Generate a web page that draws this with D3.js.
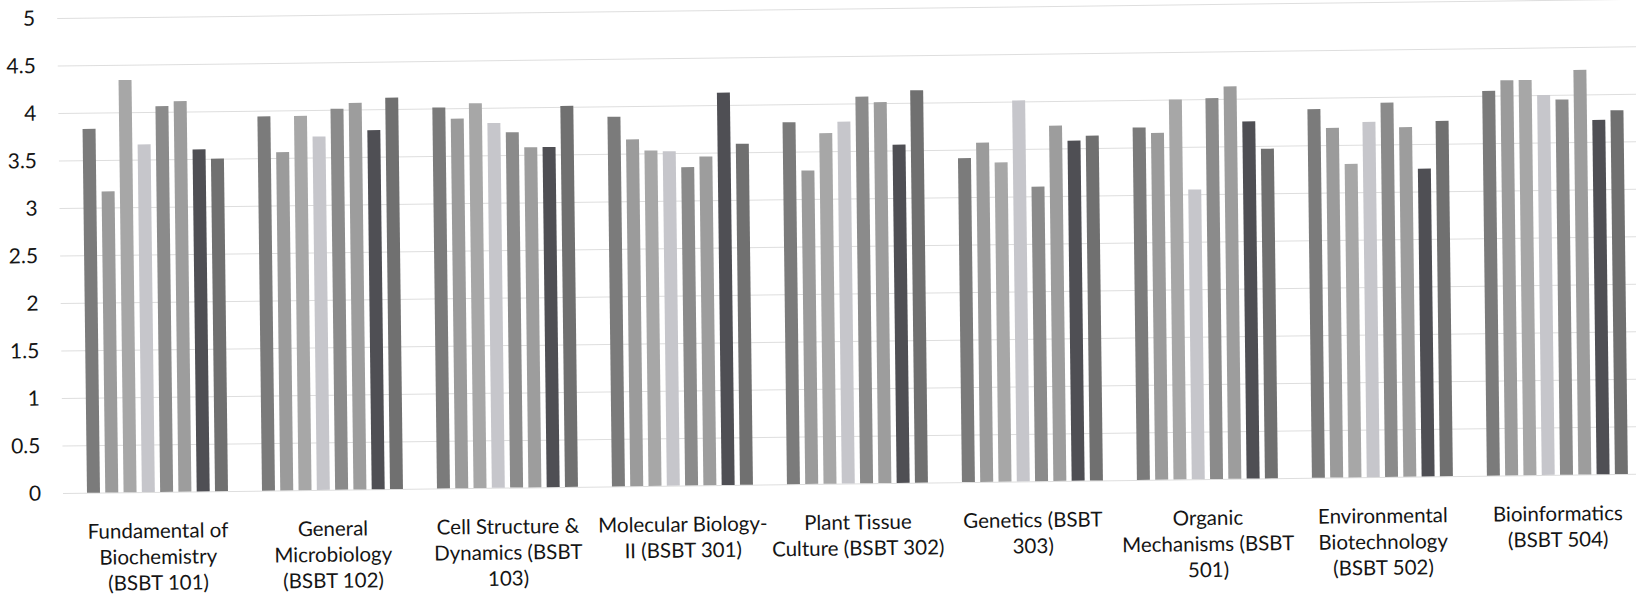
<!DOCTYPE html>
<html>
<head>
<meta charset="utf-8">
<script src="https://cdn.jsdelivr.net/npm/d3@7"></script>
<style>
    html, body { margin: 0; padding: 0; background: #fff; }
    #chart { width: 1636px; height: 599px; }
    .chart text { font-family: Lato, "Open Sans", sans-serif; fill: #151515; }
    .grid line { stroke: #dedede; stroke-width: 1; }
</style>
</head>
<body>
<div id="chart"></div>
<script>
const categories = [
    "Fundamental of Biochemistry (BSBT 101)",
    "General Microbiology (BSBT 102)",
    "Cell Structure & Dynamics (BSBT 103)",
    "Molecular Biology-II (BSBT 301)",
    "Plant Tissue Culture (BSBT 302)",
    "Genetics (BSBT 303)",
    "Organic Mechanisms (BSBT 501)",
    "Environmental Biotechnology (BSBT 502)",
    "Bioinformatics (BSBT 504)"
];

// how each category label wraps under its group
const categoryLines = [
    ["Fundamental of", "Biochemistry", "(BSBT 101)"],
    ["General", "Microbiology", "(BSBT 102)"],
    ["Cell Structure &", "Dynamics (BSBT", "103)"],
    ["Molecular Biology-", "II (BSBT 301)"],
    ["Plant Tissue", "Culture (BSBT 302)"],
    ["Genetics (BSBT", "303)"],
    ["Organic", "Mechanisms (BSBT", "501)"],
    ["Environmental", "Biotechnology", "(BSBT 502)"],
    ["Bioinformatics", "(BSBT 504)"]
];

const seriesNames = ["S1", "S2", "S3", "S4", "S5", "S6", "S7", "S8"];

// one row per category, one value per series
const scores = [
    [3.83, 3.17, 4.34, 3.66, 4.06, 4.11, 3.60, 3.50],
    [3.94, 3.56, 3.94, 3.72, 4.01, 4.07, 3.78, 4.12],
    [4.01, 3.89, 4.05, 3.84, 3.74, 3.58, 3.58, 4.01],
    [3.89, 3.65, 3.53, 3.52, 3.35, 3.46, 4.13, 3.59],
    [3.81, 3.30, 3.69, 3.81, 4.07, 4.01, 3.56, 4.13],
    [3.41, 3.57, 3.36, 4.01, 3.10, 3.74, 3.58, 3.63],
    [3.71, 3.65, 4.00, 3.05, 4.01, 4.13, 3.76, 3.47],
    [3.88, 3.68, 3.30, 3.74, 3.94, 3.68, 3.24, 3.74],
    [4.05, 4.16, 4.16, 4.00, 3.95, 4.26, 3.73, 3.83]
];

const yTicks = [0, 0.5, 1, 1.5, 2, 2.5, 3, 3.5, 4, 4.5, 5];

const seriesColors = ["#7b7b7b", "#9b9b9b", "#a7a7a7", "#c6c6cb", "#8b8b8b", "#9d9d9d", "#4f4f54", "#707070"];

(function () {
    "use strict";

    function drawChart(selection) {
        const width = 1636;
        const height = 599;

        const plot = { left: 70, right: 1645, top: 18, bottom: 493 };

        const svg = selection.append("svg")
            .attr("class", "chart")
            .attr("width", width)
            .attr("height", height);

        // the scanned page sits a little crooked
        const canvas = svg.append("g")
            .attr("transform", `rotate(-0.7,${plot.left},${plot.bottom})`);

        const yScale = d3.scaleLinear()
            .domain([0, 5])
            .range([plot.bottom, plot.top]);

        const x0 = d3.scaleBand()
            .domain(categories)
            .range([plot.left, plot.right])
            .padding(0);

        const groupSpan = 141;
        const x1 = d3.scaleBand()
            .domain(seriesNames)
            .range([(x0.bandwidth() - groupSpan) / 2, (x0.bandwidth() + groupSpan) / 2])
            .paddingInner(0.29)
            .paddingOuter(0);

        const gridStart = 63;
        const yAxis = d3.axisLeft(yScale)
            .tickValues(yTicks)
            .tickFormat(d3.format("~g"))
            .tickSizeInner(-(plot.right - gridStart))
            .tickSizeOuter(0)
            .tickPadding(22);

        const yAxisGroup = canvas.append("g")
            .attr("class", "grid")
            .attr("transform", `translate(${gridStart},0)`)
            .call(yAxis);

        yAxisGroup.select(".domain").remove();
        yAxisGroup.selectAll(".tick text")
            .style("font-size", "21px")
            .attr("fill", "#151515");

        const groups = canvas.append("g")
            .attr("class", "series")
            .selectAll("g")
            .data(scores)
            .join("g")
            .attr("transform", (d, i) => `translate(${x0(categories[i])},0)`);

        groups.selectAll("rect")
            .data(d => d.map((v, j) => ({ key: seriesNames[j], value: v })))
            .join("rect")
            .attr("x", d => x1(d.key))
            .attr("y", d => yScale(d.value))
            .attr("width", x1.bandwidth())
            .attr("height", d => yScale(0) - yScale(d.value))
            .attr("fill", (d, j) => seriesColors[j]);

        const labels = canvas.append("g")
            .attr("class", "x-labels")
            .selectAll("text")
            .data(categories)
            .join("text")
            .attr("x", d => x0(d) + x0.bandwidth() / 2)
            .attr("y", 539)
            .attr("text-anchor", "middle")
            .style("font-size", "20.5px");

        labels.selectAll("tspan")
            .data((d, i) => categoryLines[i])
            .join("tspan")
            .attr("x", function () { return this.parentNode.getAttribute("x"); })
            .attr("dy", (d, i) => i === 0 ? 0 : 26)
            .text(d => d);
    }

    d3.select("#chart")
        .call(drawChart);
}());
</script>
</body>
</html>
